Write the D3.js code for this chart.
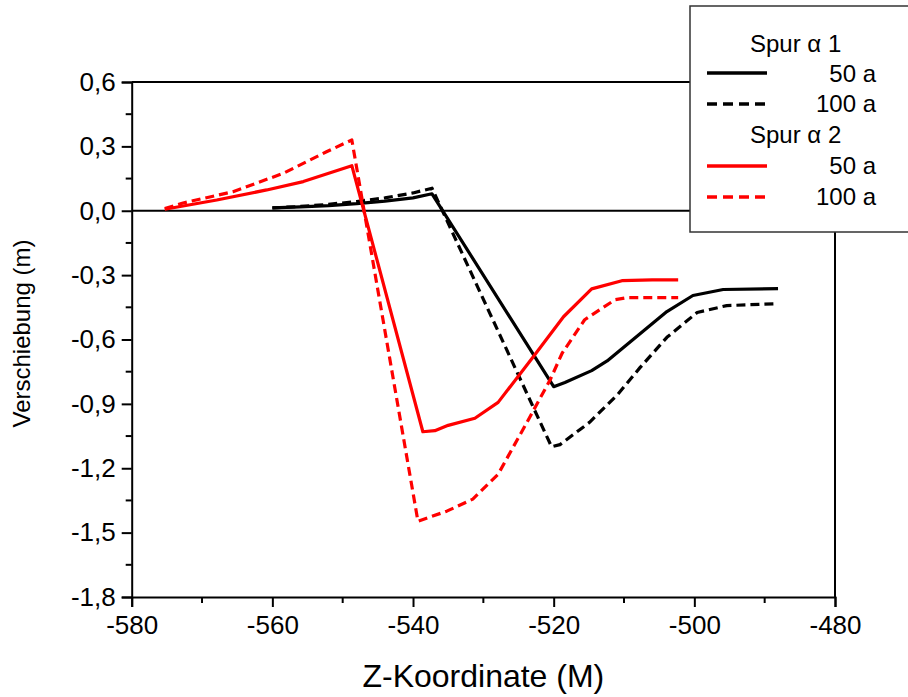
<!DOCTYPE html>
<html>
<head>
<meta charset="utf-8">
<script src="https://cdn.jsdelivr.net/npm/d3@7"></script>
<style>
  html, body { margin: 0; padding: 0; background: #fff; }
  svg { display: block; font-family: "Liberation Sans", Arial, sans-serif; }
</style>
</head>
<body>
<svg id="chart" width="908" height="697"></svg>
<script>
// ---- data ----
const xTicks = [-580, -560, -540, -520, -500, -480];
const yTicks = [0.6, 0.3, 0.0, -0.3, -0.6, -0.9, -1.2, -1.5, -1.8];

const spur1_50_x = [-560, -556, -552, -548, -544, -540, -537.3, -520, -518.4, -514.6, -512.4, -503.9, -500.2, -495.9, -488.1];
const spur1_50_y = [0.013, 0.018, 0.024, 0.033, 0.045, 0.06, 0.079, -0.82, -0.80, -0.745, -0.70, -0.47, -0.395, -0.367, -0.363];

const spur1_100_x = [-560, -556, -552, -548, -544, -540, -537.3, -520.3, -519.1, -514.9, -510.9, -507.7, -503.9, -499.6, -495.4, -488.1];
const spur1_100_y = [0.013, 0.02, 0.03, 0.043, 0.06, 0.083, 0.105, -1.10, -1.09, -0.986, -0.856, -0.73, -0.59, -0.474, -0.442, -0.433];

const spur2_50_x = [-575.3, -567.9, -560.8, -555.6, -548.7, -538.6, -536.9, -535, -531.2, -527.9, -522.9, -518.6, -514.6, -510.3, -506, -502.3];
const spur2_50_y = [0.007, 0.05, 0.097, 0.136, 0.21, -1.03, -1.025, -1.0, -0.967, -0.893, -0.68, -0.494, -0.364, -0.326, -0.322, -0.322];

const spur2_100_x = [-575.3, -572.7, -565.6, -558.4, -552.3, -548.7, -539.3, -535.2, -531.5, -527.9, -523.8, -520.5, -518.8, -515.6, -511.3, -509.6, -502.3];
const spur2_100_y = [0.01, 0.036, 0.089, 0.175, 0.275, 0.33, -1.447, -1.40, -1.344, -1.228, -0.986, -0.788, -0.664, -0.508, -0.415, -0.405, -0.405];

const legendTitles = ["Spur \u03b1 1", "Spur \u03b1 2"];
const legendLabels = ["50 a", "100 a"];

// ---- layout ----
const svg = d3.select("#chart");
const L = 131.7, R = 835, T = 82, B = 597;

const x = d3.scaleLinear().domain([-580, -480]).range([L, R]);
const y = d3.scaleLinear().domain([-1.8, 0.6]).range([B, T]);

const loc = d3.formatLocale({decimal: ",", thousands: ".", grouping: [3], currency: ["", ""], minus: "-"});
const fy = loc.format(".1f");
const fx = loc.format("d");

// frame (top & right)
svg.append("line").attr("x1", L).attr("x2", R).attr("y1", T).attr("y2", T).attr("stroke", "#000").attr("stroke-width", 2);
svg.append("line").attr("x1", R).attr("x2", R).attr("y1", T).attr("y2", B).attr("stroke", "#000").attr("stroke-width", 2);

// zero line
svg.append("line").attr("x1", L).attr("x2", R).attr("y1", y(0)).attr("y2", y(0)).attr("stroke", "#000").attr("stroke-width", 2);

// minor ticks
const yMinor = d3.range(-1.65, 0.6, 0.3);
const xMinor = d3.range(-570, -480, 20);

const gy = svg.append("g").attr("transform", `translate(${L},0)`);
gy.call(d3.axisLeft(y).tickValues(yTicks).tickFormat(fy).tickSize(10).tickPadding(6));
gy.append("g").selectAll("line").data(yMinor).join("line")
  .attr("x1", -6).attr("x2", 0).attr("y1", d => y(d)).attr("y2", d => y(d)).attr("stroke", "#000").attr("stroke-width", 2);

const gx = svg.append("g").attr("transform", `translate(0,${B})`);
gx.call(d3.axisBottom(x).tickValues(xTicks).tickFormat(fx).tickSize(10).tickPadding(8));
gx.append("g").selectAll("line").data(xMinor).join("line")
  .attr("y1", 0).attr("y2", 6).attr("x1", d => x(d)).attr("x2", d => x(d)).attr("stroke", "#000").attr("stroke-width", 2);

[gx, gy].forEach(g => {
  g.select(".domain").attr("stroke", "#000").attr("stroke-width", 2);
  g.selectAll(".tick line").attr("stroke", "#000").attr("stroke-width", 2);
  g.selectAll(".tick text").attr("fill", "#000").attr("font-size", 26)
    .attr("font-family", "'Liberation Sans', Arial, sans-serif");
});
gx.selectAll(".tick text").attr("dy", "0.72em");

// axis titles
svg.append("text").attr("x", (L + R) / 2).attr("y", 687).attr("text-anchor", "middle")
  .attr("font-size", 32).text("Z-Koordinate (M)");
svg.append("text").attr("transform", `translate(30,${(T + B) / 2 - 6}) rotate(-90)`).attr("text-anchor", "middle")
  .attr("font-size", 24).text("Verschiebung (m)");

// lines
const series = [
  {xs: spur1_50_x, ys: spur1_50_y, color: "#000", dash: null},
  {xs: spur1_100_x, ys: spur1_100_y, color: "#000", dash: "9,5"},
  {xs: spur2_50_x, ys: spur2_50_y, color: "#ff0000", dash: null},
  {xs: spur2_100_x, ys: spur2_100_y, color: "#ff0000", dash: "9,5"}
];
const line = d3.line().x(d => x(d[0])).y(d => y(d[1]));
series.forEach(s => {
  svg.append("path")
    .datum(s.xs.map((v, i) => [v, s.ys[i]]))
    .attr("d", line)
    .attr("fill", "none")
    .attr("stroke", s.color)
    .attr("stroke-width", 3.2)
    .attr("stroke-linejoin", "round")
    .attr("stroke-dasharray", s.dash);
});

// legend
const lg = svg.append("g");
lg.append("rect").attr("x", 690).attr("y", 6).attr("width", 240).attr("height", 226)
  .attr("fill", "#fff").attr("stroke", "#333").attr("stroke-width", 1.5);
const rows = [
  {type: "title", text: legendTitles[0], base: 52},
  {type: "item", text: legendLabels[0], base: 82, color: "#000", dash: null, ly: 73},
  {type: "item", text: legendLabels[1], base: 112, color: "#000", dash: "10,6", ly: 104},
  {type: "title", text: legendTitles[1], base: 143},
  {type: "item", text: legendLabels[0], base: 174, color: "#ff0000", dash: null, ly: 166},
  {type: "item", text: legendLabels[1], base: 205, color: "#ff0000", dash: "10,6", ly: 197}
];
rows.forEach(r => {
  if (r.type === "title") {
    lg.append("text").attr("x", 750).attr("y", r.base).attr("font-size", 24).attr("fill", "#000").text(r.text);
  } else {
    lg.append("line").attr("x1", 707).attr("x2", 767).attr("y1", r.ly).attr("y2", r.ly)
      .attr("stroke", r.color).attr("stroke-width", 3.5).attr("stroke-dasharray", r.dash);
    lg.append("text").attr("x", 876).attr("y", r.base).attr("text-anchor", "end").attr("font-size", 24).attr("fill", "#000").text(r.text);
  }
});
</script>
</body>
</html>
